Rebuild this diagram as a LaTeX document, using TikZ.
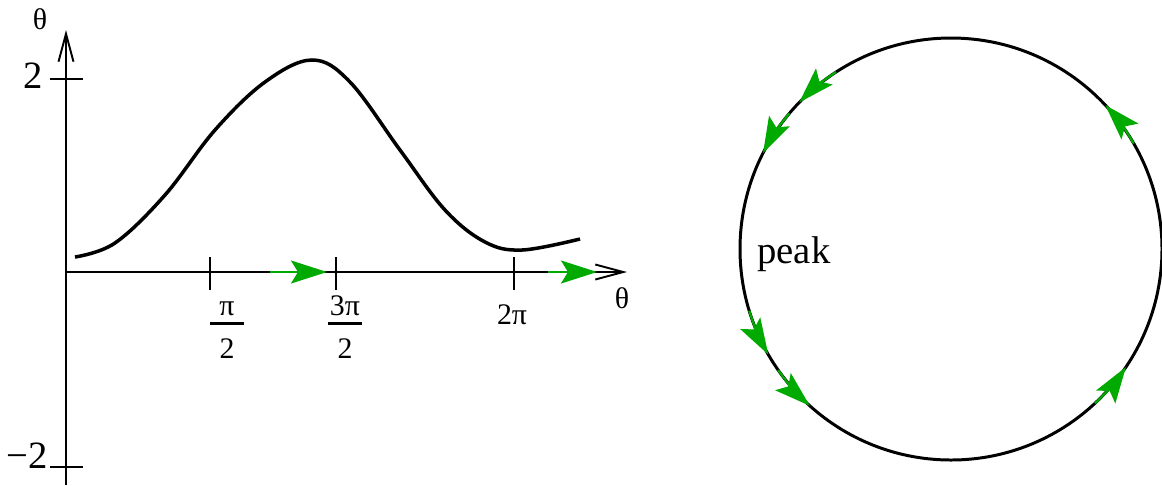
\documentclass[tikz,border=0pt]{standalone}
\usepackage{fontspec}
\setmainfont{Liberation Serif}
\usepackage{tikz}
\usetikzlibrary{arrows.meta,calc}
\definecolor{flowgreen}{RGB}{0,170,0}
\newcommand{\bigfont}{\fontsize{22}{26}\selectfont}
\newcommand{\smallfont}{\fontsize{17}{20}\selectfont}
\tikzset{
  axis/.style = {line width=1.1pt, -{Straight Barb[length=0.56cm,width=0.3cm]}},
  tickmark/.style = {line width=1.1pt},
  flow/.style = {draw=flowgreen, line width=1.3pt,
    -{Stealth[length=0.72cm,width=0.46cm,inset=0.14cm,fill=flowgreen]}},
  lbl/.style = {inner sep=0pt, font=\smallfont},
  pics/fracl/.style 2 args = {
    code = {
    \node[lbl, anchor=base] (-num) at (0,-8) {#1};
    \draw[line width=1.7pt] (-17,0) -- (17,0);
    \node[lbl, anchor=base] (-den) at (0,35) {#2};
    }
  }
}

\begin{document}
\begin{tikzpicture}[x=0.02cm,y=-0.02cm]
\useasboundingbox (0,0) rectangle (1162,485);

  % axes
  \coordinate (o) at (66,272);
  \coordinate (ybot) at (66,485);
  \coordinate (ytop) at (66,30);
  \coordinate (xend) at (627,272);
  \draw[axis] (ybot) -- (ytop);
  \draw[axis] (o) -- (xend);

  \node[lbl] (thy) at (40,19) {θ};
  \node[lbl] (thx) at (622,298) {θ};

  \foreach \y in {79,467}{
     \draw[tickmark] (50,\y) -- (83,\y);
  }
  \node[anchor=base east, inner sep=0pt, font=\bigfont] (two) at (43,88) {2};
  \node[anchor=base east, inner sep=0pt, font=\bigfont] (mtwo) at (48,468) {−2};

  \foreach \x in {210,336,514}{
     \draw[tickmark] (\x,257) -- (\x,290);
  }
  \pic (half) at (227,323) {fracl={π}{2}};
  \pic (threehalf) at (345,323) {fracl={3π}{2}};
  \node[lbl, anchor=base] (twopi) at (512,324) {2π};

  % the curve
  \draw[line width=2pt] plot[smooth, tension=0.6] coordinates {
    (75,257) (115,243) (165,195) (215,130) (265,82) (312,60)
    (350,82) (400,150) (445,210) (485,242) (522,250) (580,239)};

  \coordinate (a1) at (270,272);
  \coordinate (a2) at (327,272);
  \coordinate (b1) at (548,272);
  \coordinate (b2) at (597,272);
  \draw[flow] (a1) -- (a2);
  \draw[flow] (b1) -- (b2);

  % circle
  \coordinate (c) at (951,249);
  \draw[line width=1.7pt] (c) circle[radius=211];
  \node[anchor=base west, inner sep=0pt, font=\bigfont] (peak) at (757,263) {peak};

  \foreach \a in {224,207,150,132,-43,34}{
     \draw[flow] (c) ++({\a+13}:211) arc[start angle=\a+13, end angle=\a, radius=211];
  }

\end{tikzpicture}
\end{document}
